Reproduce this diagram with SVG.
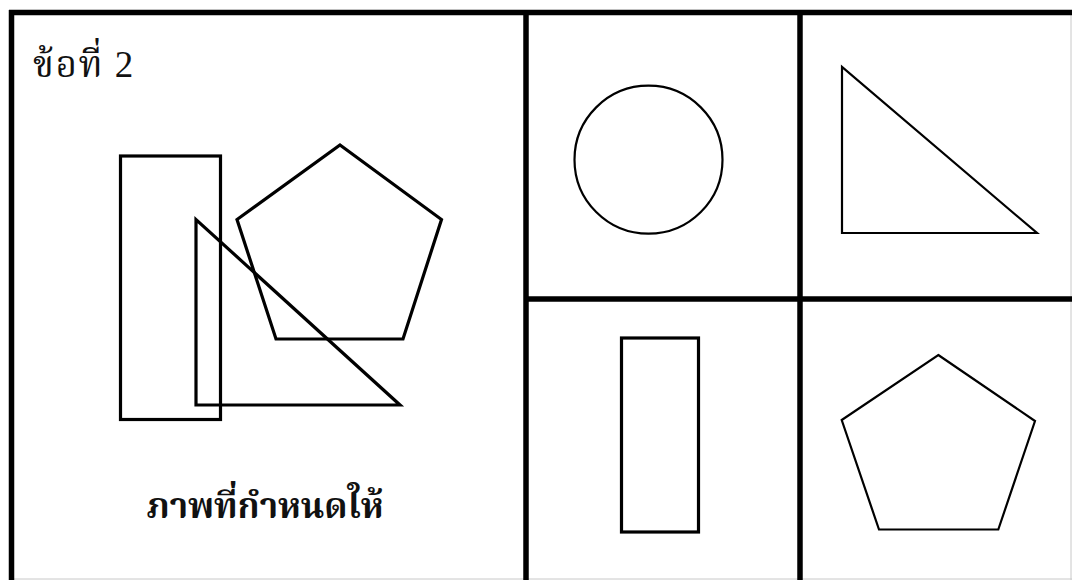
<svg xmlns="http://www.w3.org/2000/svg" width="1072" height="580" viewBox="0 0 1072 580">
  <style>
    .frame { fill: none; stroke: #000; stroke-width: 5.5; }
    .edge { fill: none; stroke: #c8c8c8; stroke-width: 1; }
    .shape { fill: none; stroke: #000; stroke-linejoin: miter; }
    .thick { stroke-width: 3.2; }
    .thin { stroke-width: 2.2; }
    .title { font-family: "Liberation Serif", "Noto Serif Thai", "Noto Sans Thai", serif; font-size: 37px; letter-spacing: 1.5px; fill: #111; }
    .label { font-family: "Liberation Serif", "Noto Serif Thai", "Noto Sans Thai", serif; font-size: 35px; font-weight: bold; fill: #111; }
  </style>
  <rect x="0" y="0" width="1072" height="580" fill="#fff"/>
  <g id="frame">
    <line class="edge" x1="1071" y1="14" x2="1071" y2="580"/>
    <line class="edge" x1="12" y1="579" x2="1072" y2="579"/>
    <line class="frame" x1="9" y1="12.5" x2="1072" y2="12.5"/>
    <line class="frame" x1="11.5" y1="10" x2="11.5" y2="580"/>
    <line class="frame" x1="526" y1="12" x2="526" y2="580"/>
    <line class="frame" x1="800" y1="12" x2="800" y2="580"/>
    <line class="frame" x1="526" y1="299" x2="1072" y2="299"/>
  </g>
  <g id="given">
    <text class="title" x="33" y="77">ข้อที่ 2</text>
    <rect id="given-rect" class="shape thick" x="120.5" y="156" width="100" height="263.5"/>
    <polygon id="given-pentagon" class="shape thick" points="340,145 441.5,219.5 403,339 276,339 237,219.5"/>
    <polygon id="given-triangle" class="shape thick" points="196,219.5 196,405 400,405"/>
    <text class="label" x="265" y="518" text-anchor="middle">ภาพที่กำหนดให้</text>
  </g>
  <g id="option-circle">
    <circle class="shape thin" cx="648.5" cy="159.7" r="74"/>
  </g>
  <g id="option-triangle">
    <polygon class="shape thin" points="842,67 842,233 1037,233"/>
  </g>
  <g id="option-rect">
    <rect class="shape thick" x="621.5" y="338" width="77" height="194"/>
  </g>
  <g id="option-pentagon">
    <polygon class="shape thin" points="938.3,355 1035,421 998.3,529.5 879,529.5 841.7,420"/>
  </g>
</svg>
